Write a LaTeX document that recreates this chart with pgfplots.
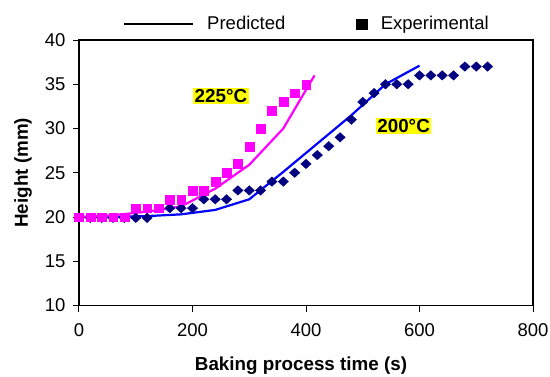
\documentclass[border=0pt]{standalone}
\usepackage{fontspec}
\setmainfont{Liberation Sans}
\usepackage{pgfplots}
\pgfplotsset{compat=1.18}
\definecolor{pinkc}{RGB}{255,0,255}
\definecolor{navyc}{RGB}{0,0,128}
\definecolor{bluec}{RGB}{0,0,255}
\definecolor{yel}{RGB}{255,255,0}
\begin{document}
\begin{tikzpicture}
\path[use as bounding box] (-79bp,-71.5bp) rectangle (471bp,305.5bp);
\begin{axis}[
  at={(0,0)}, anchor=south west,
  width=454bp, height=265.5bp, scale only axis,
  xmin=0, xmax=800, ymin=10, ymax=40,
  xtick={0,200,...,800}, ytick={10,15,...,40},
  xtick pos=bottom, ytick pos=left,
  tick align=outside, major tick length=6bp,
  axis line style={line width=1.2bp},
  every tick/.style={black, line width=1bp},
  /pgf/number format/assume math mode=true,
  ticklabel style={font=\fontsize{18.5bp}{21bp}\selectfont},
  xticklabel style={yshift=-9bp},
  yticklabel style={xshift=-4bp},
  label style={font=\bfseries\fontsize{18.8bp}{21bp}\selectfont},
  xlabel={Baking process time (s)}, ylabel={Height (mm)},
  xlabel style={at={(axis description cs:0.489,-0.228)}, anchor=center},
  ylabel style={at={(axis description cs:-0.123,0.5)}, anchor=center},
  legend columns=2,
  legend cell align=left,
  legend style={at={(axis description cs:0.097,1)}, anchor=south west, yshift=6.5bp,
    draw=none, fill=none, inner sep=0pt,
    font=\fontsize{18.5bp}{21bp}\selectfont,
    /tikz/every even column/.append style={column sep=69bp},
    /tikz/every odd column/.append style={column sep=11bp}},
]
\addlegendimage{black, legend image code/.code={\draw[black, line width=2bp] (0bp,0bp) -- (69bp,0bp);}}
\addlegendentry{Predicted}
\addlegendimage{black, legend image code/.code={\fill[black] (0bp,-5bp) rectangle (11bp,5bp);}}
\addlegendentry{Experimental}

% Predicted 200 C
\addplot[bluec, line width=2.2bp, forget plot] coordinates {
(0,20) (60,20) (120,20.1) (180,20.3) (240,20.8) (300,22) (360,25.1) (420,28.3) (480,31.5) (540,35) (600,37.1)};
% Predicted 225 C
\addplot[pinkc, line width=2.2bp, forget plot] coordinates {
(0,20) (60,20.2) (120,20.6) (180,21.2) (240,23.2) (300,25.9) (360,30) (415,36)};
% Experimental 200 C
\addplot[only marks, mark=diamond*, mark size=4.8bp, mark options={xscale=1.45, fill=navyc, draw=navyc, line width=0.3bp}, forget plot] coordinates {
(0,19.9) (20,19.9) (40,19.9) (60,19.9) (80,19.9) (100,19.9) (120,19.9)
(160,21) (180,21) (200,21) (220,22) (240,22) (260,22) (280,23) (300,23) (320,23)
(340,24) (360,24) (380,25) (400,26) (420,27) (440,28) (460,29) (480,31) (500,33)
(520,34) (540,35) (560,35) (580,35) (600,36) (620,36) (640,36) (660,36)
(680,37) (700,37) (720,37)};
% Experimental 225 C
\addplot[only marks, mark=square*, mark size=4.4bp, mark options={fill=pinkc, draw=pinkc, line width=0.2bp}, forget plot] coordinates {
(0,20) (20,20) (40,20) (60,20) (80,20) (100,21) (120,21) (140,21) (160,22) (180,22)
(200,23) (220,23) (240,24) (260,25) (280,26) (300,28) (320,30) (340,32) (360,33)
(380,34) (400,35)};

\node[fill=yel, font=\bfseries\fontsize{18.8bp}{21bp}\selectfont, inner sep=1.5bp] at (axis cs:250,33.7) {225°C};
\node[fill=yel, font=\bfseries\fontsize{18.8bp}{21bp}\selectfont, inner sep=1.5bp] at (axis cs:572,30.25) {200°C};
\end{axis}
\end{tikzpicture}
\end{document}
